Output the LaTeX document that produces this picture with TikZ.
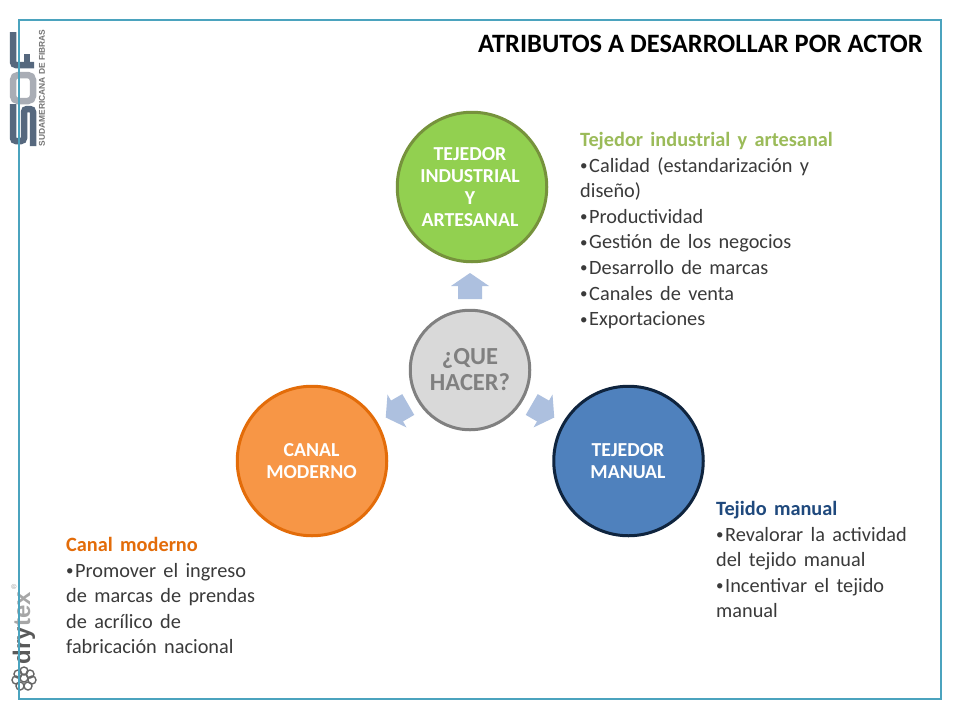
\documentclass[tikz,border=0pt]{standalone}
\usepackage{fontspec}
\setmainfont{Carlito}
\newfontfamily\logosans{Liberation Sans}
\newfontfamily\infofont[WordSpace=1.6]{Carlito}
\definecolor{framec}{HTML}{4BA3BE}
\definecolor{arrowc}{HTML}{ADC0DF}
\definecolor{logodark}{HTML}{56687E}
\definecolor{logogrey}{HTML}{A9ADB5}
\definecolor{greentxt}{HTML}{9BBB59}
\definecolor{bluetxt}{HTML}{1F497D}
\definecolor{orangetxt}{HTML}{E36C09}
\definecolor{bodytxt}{HTML}{3A3A3A}
\newcommand{\bul}{\makebox[9pt][l]{\raisebox{1.5pt}{\fontsize{15}{15}\selectfont •}}}
\tikzset{
  x=1pt,y=-1pt,
  actor/.style={circle,minimum size=149.5pt,inner sep=0pt,line width=3pt},
  actorlabel/.style={inner sep=0pt,text=white,align=center,font=\fontsize{19.8}{22}\selectfont\bfseries},
  center/.style={circle,minimum size=119.5pt,inner sep=0pt,line width=3pt,draw=black!50,fill=black!15,text=black!50,align=center,font=\fontsize{24.5}{26}\selectfont\bfseries},
  info/.style={anchor=north west,inner sep=0pt,align=left,text=bodytxt,font=\infofont\fontsize{20.3}{25.6}\selectfont},
}
\newcommand{\blockarrow}[2]{%
  \fill[arrowc,shift={(#1)},rotate=#2] (-12,13) -- (-12,0) -- (-19,0) -- (0,-13) -- (19,0) -- (12,0) -- (12,13) -- cycle;}
\begin{document}
\begin{tikzpicture}
\useasboundingbox (0,0) rectangle (960,720);
\fill[white] (0,0) rectangle (960,720);
% logos
\begin{scope}[line width=6.5pt,logodark,rounded corners=3pt]
 \draw (13,32) -- (13,65) -- (34,65);
 \draw (27,54) -- (27,65);
 \draw[logogrey,rounded corners=5pt] (13,75) rectangle (33,101);
 \draw (13,104) -- (13,141) -- (24,141) -- (24,109) -- (33,109) -- (33,146);
\end{scope}
\node[rotate=90,font=\logosans\bfseries\fontsize{8.4}{9}\selectfont,text=black!55,inner sep=0pt] (sdftext) at (42,88) {SUDAMERICANA DE FIBRAS};
\node[rotate=90,font=\logosans\bfseries\fontsize{24}{24}\selectfont,text=black!65,inner sep=0pt] (dry) at (24,628) {dry\textcolor{black!35}{tex}};
\node[font=\logosans\fontsize{7}{7}\selectfont,text=black!40,inner sep=0pt,rotate=90] (reg) at (14,587) {®};
\foreach \a/\b in {24/671,18/674,30/674,16/680,32/680,20/686,28/686,24/678}
  \draw[black!60,line width=1.4pt] (\a,\b) circle (4);
% frame
\draw[framec,line width=2pt] (19,20) rectangle (941,699);
% title
\node[anchor=base east,inner sep=0pt,font=\fontsize{26.5}{30}\selectfont\bfseries] (title) at (923,52) {ATRIBUTOS A DESARROLLAR POR ACTOR};
% circles
\node[actor,draw=orangetxt,fill={rgb,255:red,247;green,150;blue,70}] (left) at (312,461) {};
\node[actorlabel] (leftlabel) at (311.5,461) {CANAL\\MODERNO};
\node[actor,draw={rgb,255:red,15;green,36;blue,62},fill={rgb,255:red,79;green,129;blue,189}] (right) at (628.5,461) {};
\node[actorlabel] (rightlabel) at (628,461) {TEJEDOR\\MANUAL};
\node[actor,draw={rgb,255:red,118;green,146;blue,60},fill={rgb,255:red,146;green,208;blue,80}] (top) at (472,187) {};
\node[actorlabel] (toplabel) at (470,187) {TEJEDOR\\INDUSTRIAL\\Y\\ARTESANAL};
\node[center] (mid) at (470,370) {¿QUE\\HACER?};
% arrows
\blockarrow{470,286}{0}
\blockarrow{543,411}{-120}
\blockarrow{397,411}{120}
% text
\node[info] (t1) at (580,132) {\textcolor{greentxt}{\bfseries Tejedor industrial y artesanal}\\\bul Calidad (estandarización y\\diseño)\\\bul Productividad\\\bul Gestión de los negocios\\\bul Desarrollo de marcas\\\bul Canales de venta\\\bul Exportaciones};
\node[info] (t2) at (716,501) {\textcolor{bluetxt}{\bfseries Tejido manual}\\\bul Revalorar la actividad\\del tejido manual\\\bul Incentivar el tejido\\manual};
\node[info] (t3) at (66,537) {\textcolor{orangetxt}{\bfseries Canal moderno}\\\bul Promover el ingreso\\de marcas de prendas\\de acrílico de\\fabricación nacional};
\end{tikzpicture}
\end{document}
